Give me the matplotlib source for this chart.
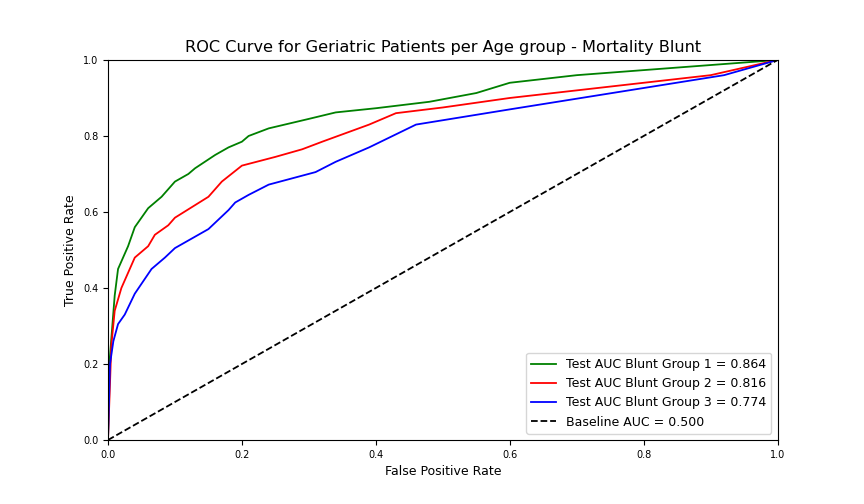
import matplotlib
matplotlib.use('Agg')
import matplotlib.pyplot as plt

# ROC points
fpr_g1 = [0, 0.002, 0.01, 0.015, 0.03, 0.04, 0.06, 0.08, 0.1, 0.12, 0.13, 0.16, 0.18, 0.2, 0.21, 0.24, 0.3, 0.34, 0.4, 0.48, 0.55, 0.6, 0.7, 1.0]
tpr_g1 = [0, 0.2, 0.38, 0.45, 0.51, 0.56, 0.61, 0.64, 0.68, 0.7, 0.715, 0.75, 0.77, 0.785, 0.8, 0.82, 0.845, 0.862, 0.873, 0.89, 0.913, 0.94, 0.96, 1.0]

fpr_g2 = [0, 0.005, 0.01, 0.02, 0.03, 0.04, 0.06, 0.07, 0.09, 0.1, 0.15, 0.17, 0.2, 0.25, 0.29, 0.32, 0.39, 0.43, 0.5, 0.6, 0.9, 1.0]
tpr_g2 = [0, 0.25, 0.34, 0.4, 0.44, 0.48, 0.51, 0.54, 0.565, 0.585, 0.64, 0.68, 0.722, 0.745, 0.765, 0.785, 0.83, 0.86, 0.875, 0.9, 0.96, 1.0]

fpr_g3 = [0, 0.003, 0.008, 0.015, 0.025, 0.04, 0.065, 0.085, 0.1, 0.15, 0.18, 0.19, 0.21, 0.24, 0.31, 0.34, 0.39, 0.46, 0.6, 0.92, 1.0]
tpr_g3 = [0, 0.2, 0.26, 0.305, 0.33, 0.385, 0.45, 0.48, 0.505, 0.555, 0.605, 0.625, 0.645, 0.672, 0.705, 0.732, 0.77, 0.83, 0.87, 0.96, 1.0]

auc_labels = ["Test AUC Blunt Group 1 = 0.864", "Test AUC Blunt Group 2 = 0.816",
              "Test AUC Blunt Group 3 = 0.774", "Baseline AUC = 0.500"]

fig = plt.figure(figsize=(8.64, 5.04), dpi=100)
ax = fig.add_axes([0.125, 0.127, 0.775, 0.754])

lw = 1.3
ax.plot(fpr_g1, tpr_g1, color='green', lw=lw, label=auc_labels[0])
ax.plot(fpr_g2, tpr_g2, color='red', lw=lw, label=auc_labels[1])
ax.plot(fpr_g3, tpr_g3, color='blue', lw=lw, label=auc_labels[2])
ax.plot([0, 1], [0, 1], 'k--', lw=lw, label=auc_labels[3])

ax.set_xlim(0, 1)
ax.set_ylim(0, 1)
ax.set_title("ROC Curve for Geriatric Patients per Age group - Mortality Blunt", fontsize=11.6)
ax.set_xlabel("False Positive Rate", fontsize=9)
ax.set_ylabel("True Positive Rate", fontsize=9)
ax.tick_params(labelsize=7)
ax.legend(loc='lower right', fontsize=9)

plt.savefig('out.png', dpi=100)
